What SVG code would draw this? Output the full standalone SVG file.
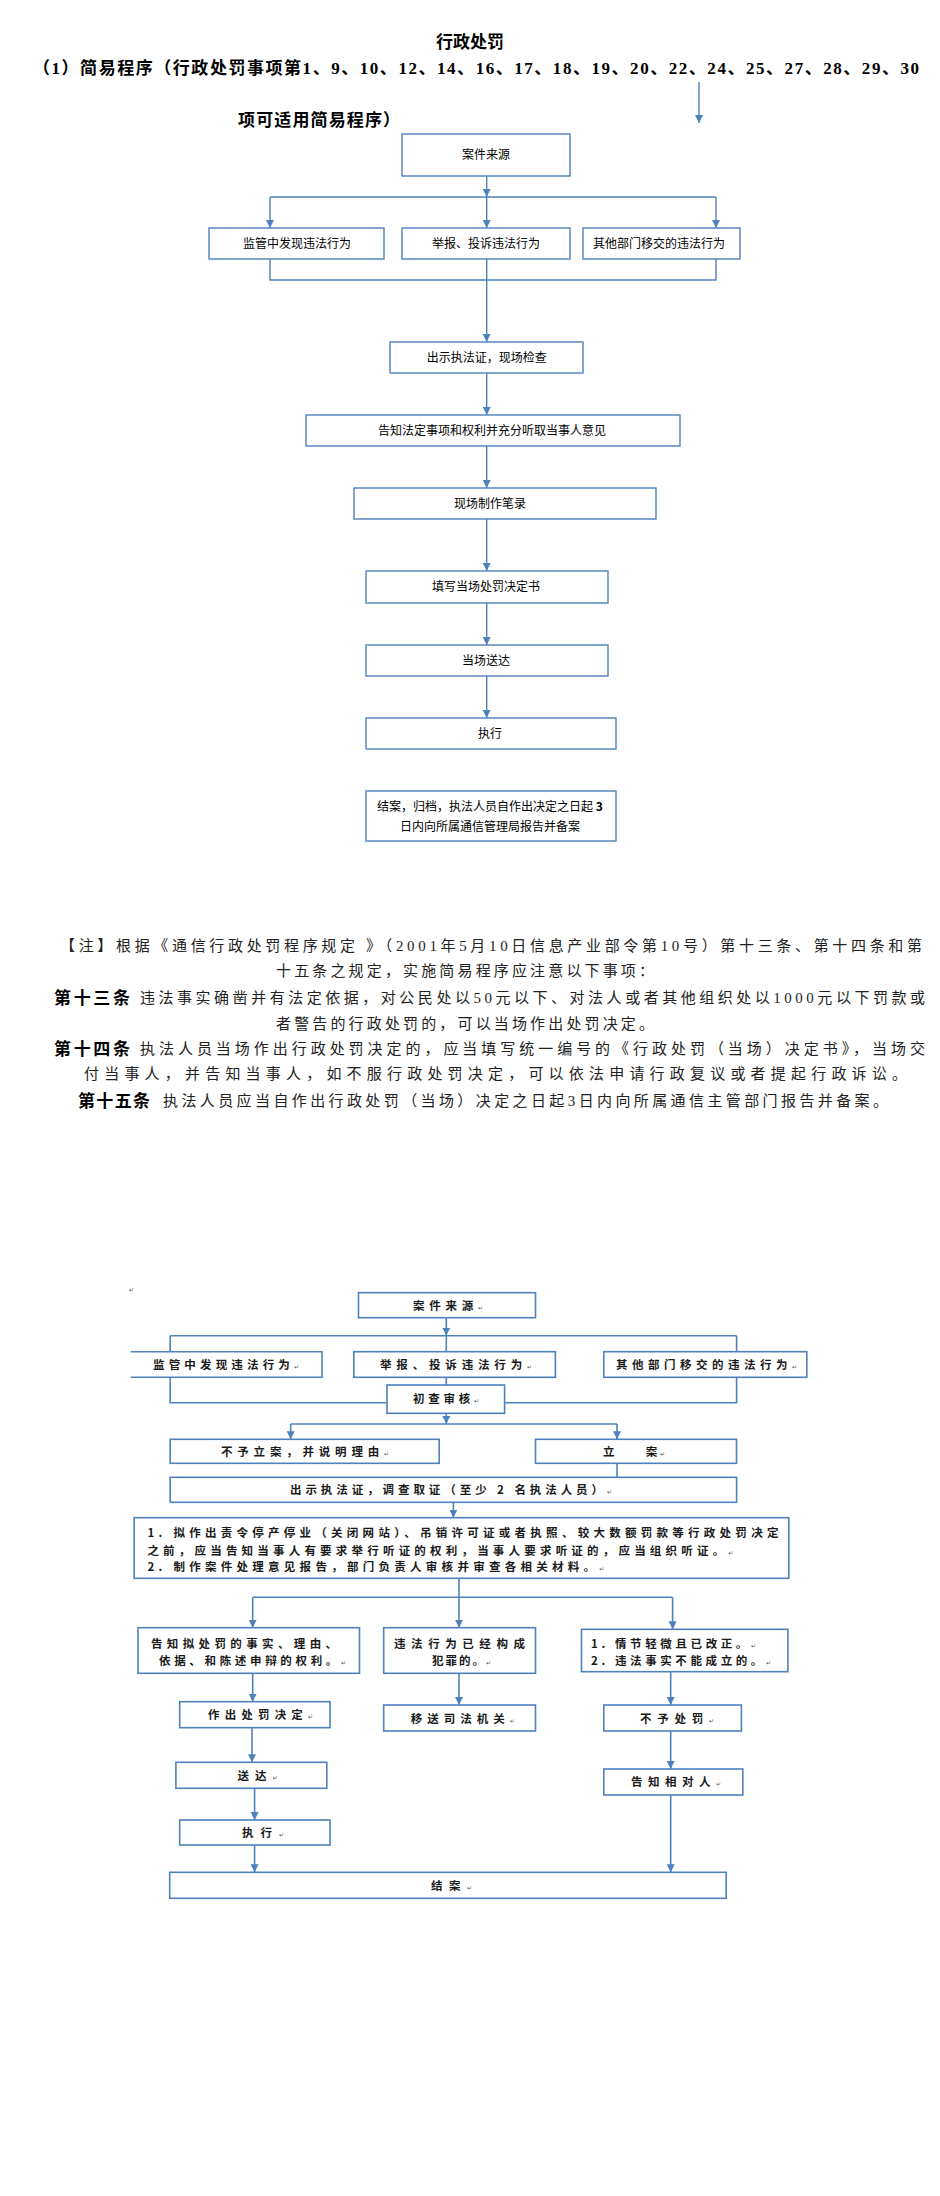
<svg xmlns="http://www.w3.org/2000/svg" width="940" height="2196" viewBox="0 0 940 2196">
<defs>
<marker id="ah" markerUnits="userSpaceOnUse" markerWidth="9" markerHeight="9" refX="8" refY="4" orient="auto">
<path d="M0,0 L8,4 L0,8 Z" fill="#4F81BD"/>
</marker>
<style>
.b1{fill:#fff;stroke:#4F81BD;stroke-width:1.4}
.b2{fill:#fff;stroke:#4F81BD;stroke-width:1.6}
.c1{fill:none;stroke:#4F81BD;stroke-width:1.4}
.c2{fill:none;stroke:#4F81BD;stroke-width:1.6}
.a{marker-end:url(#ah)}
.t1{font-family:"Noto Sans CJK SC","Liberation Sans",sans-serif;font-size:12px;fill:#000;text-anchor:middle}
.t2{font-family:"Noto Sans CJK SC","Liberation Sans",sans-serif;font-size:11.5px;fill:#1a1a1a;font-weight:bold}
.hd{font-family:"Liberation Serif","Noto Sans CJK SC",serif;font-size:17px;fill:#000;font-weight:bold}
.nt{font-family:"Liberation Serif","Noto Sans CJK SC",serif;font-size:15px;fill:#222}
.nb{font-family:"Noto Sans CJK SC",sans-serif;font-size:17px;font-weight:bold;fill:#000}
.pm{font-family:"DejaVu Sans",sans-serif;font-size:6px;fill:#555;font-weight:normal}
</style>
</defs>
<rect width="940" height="2196" fill="#fff"/>

<!-- headings -->
<g id="heading">
<text class="hd" x="470" y="48" text-anchor="middle">行政处罚</text>
<text class="hd" x="33" y="74" textLength="886">（1）简易程序（行政处罚事项第1、9、10、12、14、16、17、18、19、20、22、24、25、27、28、29、30</text>
<text class="hd" x="238" y="126" textLength="162">项可适用简易程序）</text>
</g>

<!-- connectors chart 1 -->
<g id="connectors1">
<path class="c1 a" d="M699,82 V123"/>
<path class="c1 a" d="M486.7,176 V197"/>
<path class="c1" d="M270,197 H716"/>
<path class="c1 a" d="M270,197 V228"/>
<path class="c1 a" d="M486.7,197 V228"/>
<path class="c1 a" d="M716,197 V228"/>
<path class="c1" d="M270,259 V280 H716 V259"/>
<path class="c1 a" d="M486.7,259 V342"/>
<path class="c1 a" d="M486.7,373 V415"/>
<path class="c1 a" d="M486.7,446 V488"/>
<path class="c1 a" d="M486.7,519 V571"/>
<path class="c1 a" d="M486.7,603 V645"/>
<path class="c1 a" d="M486.7,676 V718"/>
</g>

<g id="n1-source"><rect class="b1" x="402" y="134" width="168" height="42"/><text class="t1" x="486" y="159">案件来源</text></g>
<g id="n1-supervise"><rect class="b1" x="209" y="228" width="175" height="31"/><text class="t1" x="297" y="248">监管中发现违法行为</text></g>
<g id="n1-report"><rect class="b1" x="402" y="228" width="168" height="31"/><text class="t1" x="486" y="248">举报、投诉违法行为</text></g>
<g id="n1-transfer"><rect class="b1" x="583" y="228" width="157" height="31"/><text class="t1" x="659" y="248">其他部门移交的违法行为</text></g>
<g id="n1-show"><rect class="b1" x="390" y="342" width="193" height="31"/><text class="t1" x="486.7" y="362">出示执法证，现场检查</text></g>
<g id="n1-inform"><rect class="b1" x="306" y="415" width="374" height="31"/><text class="t1" x="492" y="435">告知法定事项和权利并充分听取当事人意见</text></g>
<g id="n1-record"><rect class="b1" x="354" y="488" width="302" height="31"/><text class="t1" x="490" y="508">现场制作笔录</text></g>
<g id="n1-fill"><rect class="b1" x="366" y="571" width="242" height="32"/><text class="t1" x="486" y="591">填写当场处罚决定书</text></g>
<g id="n1-deliver"><rect class="b1" x="366" y="645" width="242" height="31"/><text class="t1" x="486" y="665">当场送达</text></g>
<g id="n1-execute"><rect class="b1" x="366" y="718" width="250" height="31"/><text class="t1" x="490" y="738">执行</text></g>
<g id="n1-close"><rect class="b1" x="366" y="791" width="250" height="50"/>
<text class="t1" x="490" y="811">结案，归档，执法人员自作出决定之日起 <tspan font-weight="bold">3</tspan></text>
<text class="t1" x="490" y="831">日内向所属通信管理局报告并备案</text></g>

<!-- notes -->
<g id="notes">
<text class="nt" x="60" y="951" textLength="862">【注】根据《通信行政处罚程序规定 》（2001年5月10日信息产业部令第10号）第十三条、第十四条和第</text>
<text class="nt" x="276" y="976" textLength="378">十五条之规定，实施简易程序应注意以下事项：</text>
<text class="nb" x="54" y="1004" textLength="76">第十三条</text>
<text class="nt" x="140" y="1003" textLength="785">违法事实确凿并有法定依据，对公民处以50元以下、对法人或者其他组织处以1000元以下罚款或</text>
<text class="nt" x="276" y="1029" textLength="378">者警告的行政处罚的，可以当场作出处罚决定。</text>
<text class="nb" x="54" y="1055" textLength="76">第十四条</text>
<text class="nt" x="140" y="1054" textLength="785">执法人员当场作出行政处罚决定的，应当填写统一编号的《行政处罚（当场）决定书》，当场交</text>
<text class="nt" x="84" y="1079" textLength="823">付当事人，并告知当事人，如不服行政处罚决定，可以依法申请行政复议或者提起行政诉讼。</text>
<text class="nb" x="78" y="1107" textLength="72">第十五条</text>
<text class="nt" x="163" y="1106" textLength="725">执法人员应当自作出行政处罚（当场）决定之日起3日内向所属通信主管部门报告并备案。</text>
</g>

<!-- chart 2 -->
<text class="pm" x="129" y="1292">↵</text>
<g id="connectors2">
<path class="c2 a" d="M446.3,1318 V1335.7"/>
<path class="c2" d="M170.2,1335.7 H736.6"/>
<path class="c2" d="M170.2,1335.7 V1351.7 M446.3,1335.7 V1351.7 M736.6,1335.7 V1351.7"/>
<path class="c2" d="M170.2,1377.3 V1402.7 H387"/>
<path class="c2" d="M736.6,1377.3 V1402.7 H504.6"/>
<path class="c2" d="M446.3,1377.3 V1385"/>
<path class="c2 a" d="M446.3,1413.3 V1424"/>
<path class="c2" d="M290.7,1424 H617"/>
<path class="c2 a" d="M290.7,1424 V1439.3"/>
<path class="c2 a" d="M617,1424 V1439.3"/>
<path class="c2" d="M617,1463.3 V1477.3"/>
<path class="c2 a" d="M453.4,1502.3 V1517.7"/>
<path class="c2" d="M459,1578.3 V1597.3"/>
<path class="c2" d="M252.7,1597.3 H672.6"/>
<path class="c2 a" d="M252.7,1597.3 V1627.7"/>
<path class="c2 a" d="M459,1597.3 V1627.7"/>
<path class="c2 a" d="M672.6,1597.3 V1629.3"/>
<path class="c2 a" d="M252.7,1673.3 V1701.7"/>
<path class="c2 a" d="M252,1727.7 V1762.3"/>
<path class="c2 a" d="M254.6,1788.3 V1820"/>
<path class="c2 a" d="M254.6,1845 V1872.3"/>
<path class="c2 a" d="M459,1673.3 V1705"/>
<path class="c2 a" d="M670.7,1671.7 V1705"/>
<path class="c2 a" d="M670.7,1731 V1769"/>
<path class="c2 a" d="M670.7,1795 V1872.3"/>
</g>

<g id="n2-source"><rect class="b2" x="358.5" y="1292.7" width="177" height="25"/><text class="t2" x="413" y="1310" textLength="70">案件来源<tspan class="pm">↵</tspan></text></g>
<g id="n2-supervise"><path class="b2" d="M130.8,1351.7 H322 V1377.3 H130.8"/><text class="t2" x="153" y="1369" textLength="146">监管中发现违法行为<tspan class="pm">↵</tspan></text></g>
<g id="n2-report"><rect class="b2" x="353.8" y="1351.7" width="201.6" height="25.6"/><text class="t2" x="380" y="1369" textLength="152">举报、投诉违法行为<tspan class="pm">↵</tspan></text></g>
<g id="n2-transfer"><rect class="b2" x="603.8" y="1351.7" width="203" height="25.6"/><text class="t2" x="616" y="1369" textLength="181">其他部门移交的违法行为<tspan class="pm">↵</tspan></text></g>
<g id="n2-review"><rect class="b2" x="387" y="1385" width="117.6" height="28.3"/><text class="t2" x="413" y="1403" textLength="66">初查审核<tspan class="pm">↵</tspan></text></g>
<g id="n2-reject"><rect class="b2" x="170.2" y="1439.3" width="269" height="24"/><text class="t2" x="221" y="1455.5" textLength="168">不予立案，并说明理由<tspan class="pm">↵</tspan></text></g>
<g id="n2-file"><rect class="b2" x="535.5" y="1439.3" width="201" height="24"/><text class="t2" x="603" y="1455.5" textLength="62">立　　案<tspan class="pm">↵</tspan></text></g>
<g id="n2-investigate"><rect class="b2" x="170.2" y="1477.3" width="566.4" height="25"/><text class="t2" x="290" y="1494" textLength="322">出示执法证，调查取证（至少 2 名执法人员）<tspan class="pm">↵</tspan></text></g>
<g id="n2-hearing"><rect class="b2" x="134.2" y="1517.7" width="654.6" height="60.6"/>
<text class="t2" x="147.4" y="1537" textLength="631">1. 拟作出责令停产停业（关闭网站）、吊销许可证或者执照、较大数额罚款等行政处罚决定</text>
<text class="t2" x="147.4" y="1554.5" textLength="586">之前，应当告知当事人有要求举行听证的权利，当事人要求听证的，应当组织听证。<tspan class="pm">↵</tspan></text>
<text class="t2" x="147.4" y="1570.5" textLength="457">2. 制作案件处理意见报告，部门负责人审核并审查各相关材料。<tspan class="pm">↵</tspan></text></g>
<g id="n2-notify"><rect class="b2" x="138" y="1627.7" width="221.5" height="45.6"/>
<text class="t2" x="151" y="1648" textLength="186">告知拟处罚的事实、理由、</text>
<text class="t2" x="159" y="1665" textLength="187">依据、和陈述申辩的权利。<tspan class="pm">↵</tspan></text></g>
<g id="n2-crime"><rect class="b2" x="383.7" y="1627.7" width="151.8" height="45.6"/>
<text class="t2" x="394" y="1648" textLength="131">违法行为已经构成</text>
<text class="t2" x="432" y="1665" textLength="59">犯罪的。<tspan class="pm">↵</tspan></text></g>
<g id="n2-minor"><rect class="b2" x="581.5" y="1629.3" width="206.4" height="42.4"/>
<text class="t2" x="591" y="1648" textLength="165">1. 情节轻微且已改正。<tspan class="pm">↵</tspan></text>
<text class="t2" x="591" y="1665" textLength="180">2. 违法事实不能成立的。<tspan class="pm">↵</tspan></text></g>
<g id="n2-decide"><rect class="b2" x="179.7" y="1701.7" width="150.3" height="26"/><text class="t2" x="208" y="1719" textLength="105">作出处罚决定<tspan class="pm">↵</tspan></text></g>
<g id="n2-refer"><rect class="b2" x="383.7" y="1705" width="151.8" height="26"/><text class="t2" x="410.7" y="1722.5" textLength="104">移送司法机关<tspan class="pm">↵</tspan></text></g>
<g id="n2-nopenalty"><rect class="b2" x="603.8" y="1705" width="137.6" height="26"/><text class="t2" x="640" y="1722.5" textLength="74">不予处罚<tspan class="pm">↵</tspan></text></g>
<g id="n2-deliver"><rect class="b2" x="175.9" y="1762.3" width="150.9" height="26"/><text class="t2" x="237.6" y="1779.5" textLength="40">送达<tspan class="pm">↵</tspan></text></g>
<g id="n2-tell"><rect class="b2" x="603.8" y="1769" width="139" height="26"/><text class="t2" x="631" y="1786" textLength="90">告知相对人<tspan class="pm">↵</tspan></text></g>
<g id="n2-execute"><rect class="b2" x="179.7" y="1820" width="150.3" height="25"/><text class="t2" x="242" y="1837" textLength="42">执行<tspan class="pm">↵</tspan></text></g>
<g id="n2-close"><rect class="b2" x="169.7" y="1872.3" width="556.5" height="26"/><text class="t2" x="431" y="1889.5" textLength="41">结案<tspan class="pm">↵</tspan></text></g>
</svg>
